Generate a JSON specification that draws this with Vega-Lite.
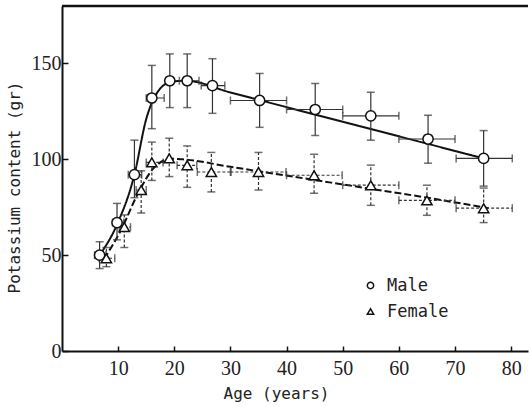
{
  "$schema": "https://vega.github.io/schema/vega-lite/v6.json",
  "width": 466,
  "height": 345,
  "autosize": "none",
  "padding": {"left": 62, "top": 6, "right": 1, "bottom": 56},
  "background": "white",
  "config": {
    "view": {"stroke": null},
    "font": "DejaVu Sans Mono",
    "axis": {
      "grid": false,
      "domainColor": "#111",
      "domainWidth": 2,
      "tickColor": "#111",
      "tickWidth": 1.5,
      "labelFont": "Liberation Sans Narrow",
      "labelFontSize": 20,
      "labelColor": "#222",
      "titleFont": "DejaVu Sans Mono",
      "titleFontSize": 16,
      "titleFontWeight": "normal",
      "titleColor": "#222"
    },
    "legend": {
      "labelFont": "DejaVu Sans Mono",
      "labelFontSize": 17,
      "labelColor": "#222",
      "padding": 0
    }
  },
  "datasets": {
    "pts": [
      {"sex": "Male", "age": 6.7, "k": 50, "ylo": 43, "yhi": 57, "xlo": 5.8, "xhi": 7.8},
      {"sex": "Male", "age": 9.8, "k": 67, "ylo": 58, "yhi": 77, "xlo": 9, "xhi": 11},
      {"sex": "Male", "age": 12.9, "k": 92, "ylo": 80, "yhi": 110, "xlo": 11.8, "xhi": 14.2},
      {"sex": "Male", "age": 16, "k": 132, "ylo": 116, "yhi": 149, "xlo": 15, "xhi": 18.2},
      {"sex": "Male", "age": 19.2, "k": 141, "ylo": 127, "yhi": 155, "xlo": null, "xhi": null},
      {"sex": "Male", "age": 22.3, "k": 141, "ylo": 127, "yhi": 155, "xlo": 20.9, "xhi": 24.4},
      {"sex": "Male", "age": 26.8, "k": 138.5, "ylo": 124, "yhi": 152.5, "xlo": 24.8, "xhi": 29},
      {"sex": "Male", "age": 35.2, "k": 130.7, "ylo": 116.7, "yhi": 144.8, "xlo": 30, "xhi": 40},
      {"sex": "Male", "age": 45.1, "k": 126, "ylo": 112.5, "yhi": 139.6, "xlo": 40, "xhi": 50},
      {"sex": "Male", "age": 55, "k": 122.7, "ylo": 110, "yhi": 135, "xlo": 50, "xhi": 60},
      {"sex": "Male", "age": 65.2, "k": 110.6, "ylo": 98, "yhi": 123, "xlo": 60, "xhi": 70},
      {"sex": "Male", "age": 75.1, "k": 100.5, "ylo": 86, "yhi": 115, "xlo": 70.2, "xhi": 80.2},
      {"sex": "Female", "age": 7.9, "k": 48.4, "ylo": 44, "yhi": 54, "xlo": 6.6, "xhi": 9.4},
      {"sex": "Female", "age": 11.1, "k": 64.6, "ylo": 54, "yhi": 71, "xlo": 10.2, "xhi": 12.2},
      {"sex": "Female", "age": 14.1, "k": 84, "ylo": 72, "yhi": 94, "xlo": 13.2, "xhi": 15},
      {"sex": "Female", "age": 16, "k": 98.4, "ylo": 89, "yhi": 109, "xlo": 15, "xhi": 18},
      {"sex": "Female", "age": 19.1, "k": 100.5, "ylo": 91, "yhi": 111, "xlo": null, "xhi": null},
      {"sex": "Female", "age": 22.3, "k": 96.9, "ylo": 85.4, "yhi": 107, "xlo": 20.5, "xhi": 24},
      {"sex": "Female", "age": 26.6, "k": 93.4, "ylo": 83, "yhi": 103.6, "xlo": 24.1, "xhi": 30.1},
      {"sex": "Female", "age": 35, "k": 93.4, "ylo": 84, "yhi": 103.6, "xlo": 30, "xhi": 39.9},
      {"sex": "Female", "age": 44.9, "k": 91.7, "ylo": 82.3, "yhi": 102.6, "xlo": 40, "xhi": 49.9},
      {"sex": "Female", "age": 55, "k": 86.5, "ylo": 76, "yhi": 97, "xlo": 50, "xhi": 60},
      {"sex": "Female", "age": 65, "k": 78.6, "ylo": 70.8, "yhi": 86.5, "xlo": 60, "xhi": 70},
      {"sex": "Female", "age": 75.1, "k": 74.5, "ylo": 67, "yhi": 85, "xlo": 70.2, "xhi": 80.2}
    ],
    "fit": [
      {"sex": "Male", "age": 6.7, "k": 50},
      {"sex": "Male", "age": 9.8, "k": 66},
      {"sex": "Male", "age": 12.9, "k": 92},
      {"sex": "Male", "age": 15, "k": 121},
      {"sex": "Male", "age": 17, "k": 135},
      {"sex": "Male", "age": 19.5, "k": 140.5},
      {"sex": "Male", "age": 22, "k": 141},
      {"sex": "Male", "age": 30, "k": 134.9},
      {"sex": "Male", "age": 45, "k": 123.4},
      {"sex": "Male", "age": 60, "k": 112},
      {"sex": "Male", "age": 75.1, "k": 100.5},
      {"sex": "Female", "age": 7.5, "k": 48},
      {"sex": "Female", "age": 10.5, "k": 63},
      {"sex": "Female", "age": 13.5, "k": 82},
      {"sex": "Female", "age": 16.5, "k": 96},
      {"sex": "Female", "age": 19.5, "k": 100.3},
      {"sex": "Female", "age": 21.5, "k": 100},
      {"sex": "Female", "age": 30, "k": 96.1},
      {"sex": "Female", "age": 50, "k": 86.9},
      {"sex": "Female", "age": 65, "k": 80},
      {"sex": "Female", "age": 76, "k": 74.5}
    ]
  },
  "layer": [
    {
      "data": {"name": "fit"},
      "mark": {"type": "line", "interpolate": "monotone", "color": "#111", "strokeWidth": 2},
      "encoding": {
        "x": {"field": "age", "type": "quantitative", "scale": {"domain": [0, 83], "nice": false, "zero": false},
          "axis": {"title": "Age (years)", "values": [10, 20, 30, 40, 50, 60, 70, 80], "tickSize": -5, "labelPadding": 12, "titlePadding": 7, "titleX": 214}},
        "y": {"field": "k", "type": "quantitative", "scale": {"domain": [0, 180], "nice": false},
          "axis": {"title": "Potassium content (gr)", "values": [0, 50, 100, 150], "tickSize": -6, "labelPadding": 7, "titlePadding": 9, "titleY": 181}},
        "detail": {"field": "sex"},
        "strokeDash": {"field": "sex", "type": "nominal", "scale": {"domain": ["Male", "Female"], "range": [[1, 0], [7, 3]]}, "legend": null}
      }
    },
    {
      "data": {"values": [{"top": 180}]},
      "mark": {"type": "rule", "color": "#111", "strokeWidth": 2.5},
      "encoding": {"y": {"field": "top", "type": "quantitative"}}
    },
    {
      "data": {"name": "pts"},
      "mark": {"type": "rule", "color": "#333", "strokeWidth": 1.2},
      "encoding": {
        "x": {"field": "age", "type": "quantitative"},
        "y": {"field": "ylo", "type": "quantitative"},
        "y2": {"field": "yhi"},
        "strokeDash": {"field": "sex", "type": "nominal", "scale": {"domain": ["Male", "Female"], "range": [[1, 0], [3, 2]]}, "legend": null}
      }
    },
    {
      "data": {"name": "pts"},
      "mark": {"type": "rule", "color": "#333", "strokeWidth": 1.2},
      "encoding": {
        "x": {"field": "xlo", "type": "quantitative"},
        "x2": {"field": "xhi"},
        "y": {"field": "k", "type": "quantitative"},
        "strokeDash": {"field": "sex", "type": "nominal", "scale": {"domain": ["Male", "Female"], "range": [[1, 0], [3, 2]]}, "legend": null}
      }
    },
    {
      "data": {"name": "pts"},
      "mark": {"type": "tick", "orient": "horizontal", "color": "#333", "size": 8, "thickness": 1.5},
      "encoding": {"x": {"field": "age", "type": "quantitative"}, "y": {"field": "ylo", "type": "quantitative"}}
    },
    {
      "data": {"name": "pts"},
      "mark": {"type": "tick", "orient": "horizontal", "color": "#333", "size": 8, "thickness": 1.5},
      "encoding": {"x": {"field": "age", "type": "quantitative"}, "y": {"field": "yhi", "type": "quantitative"}}
    },
    {
      "data": {"name": "pts"},
      "mark": {"type": "tick", "orient": "vertical", "color": "#333", "size": 8, "thickness": 1.5},
      "encoding": {"x": {"field": "xlo", "type": "quantitative"}, "y": {"field": "k", "type": "quantitative"}}
    },
    {
      "data": {"name": "pts"},
      "mark": {"type": "tick", "orient": "vertical", "color": "#333", "size": 8, "thickness": 1.5},
      "encoding": {"x": {"field": "xhi", "type": "quantitative"}, "y": {"field": "k", "type": "quantitative"}}
    },
    {
      "data": {"name": "pts"},
      "mark": {"type": "point", "filled": false, "color": "#111", "fill": "white", "fillOpacity": 1, "strokeWidth": 1.5, "size": 105, "opacity": 1},
      "encoding": {
        "x": {"field": "age", "type": "quantitative"},
        "y": {"field": "k", "type": "quantitative"},
        "shape": {"field": "sex", "type": "nominal", "title": null,
          "scale": {"domain": ["Male", "Female"], "range": ["circle", "triangle-up"]},
          "legend": {"orient": "none", "legendX": 300, "legendY": 271, "symbolSize": 40, "rowPadding": 8, "labelOffset": 8,
            "encode": {"symbols": {"update": {"stroke": {"value": "#222"}, "fill": {"value": "white"}, "strokeWidth": {"value": 1.3}, "opacity": {"value": 1}, "fillOpacity": {"value": 1}, "strokeOpacity": {"value": 1}}}}}
        }
      }
    }
  ],
  "resolve": {"scale": {"strokeDash": "independent"}}
}
